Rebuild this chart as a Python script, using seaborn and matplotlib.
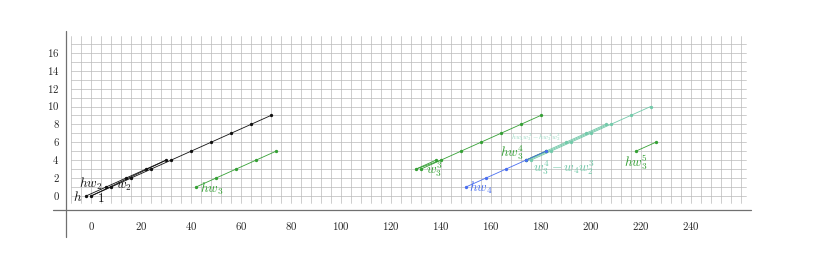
import numpy as np
import pandas as pd
import matplotlib
matplotlib.use("Agg")
import matplotlib.pyplot as plt
import seaborn as sns

# ---- data ----
# black: 1, h and the shifted copy between them
one_x = [0, 8, 16, 24, 32, 40, 48, 56, 64, 72]
one_y = [0, 1, 2, 3, 4, 5, 6, 7, 8, 9]
h_x = [-2, 6, 14, 22, 30]
h_y = [0, 1, 2, 3, 4]
mid_x = [0, 30]
mid_y = [0, 4]

# green hw_3
hw3_x = [42, 50, 58, 66, 74]
hw3_y = [1, 2, 3, 4, 5]

# green w_3^3
w33_x = [132, 140, 148, 156, 164, 172, 180]
w33_y = [3, 4, 5, 6, 7, 8, 9]
w33b_x = [130, 138]
w33b_y = [3, 4]
w33m_x = [130, 140]
w33m_y = [3, 4]

# blue hw_4
hw4_x = [150, 158, 166, 174, 182]
hw4_y = [1, 2, 3, 4, 5]

# green hw_3^4
hw34_x = [174, 182]
hw34_y = [4, 5]

# teal w_3^4 - w_4 w_2^3
teal_x = [176, 184, 192, 200, 208, 216, 224]
teal_y = [4, 5, 6, 7, 8, 9, 10]
tealb_x = [174, 182, 190, 198, 206]
tealb_y = [4, 5, 6, 7, 8]
tealm_x = [175, 207]
tealm_y = [4, 8]

# green hw_3^5
hw35_x = [218, 226]
hw35_y = [5, 6]

x_ticks = list(range(0, 241, 20))
y_ticks = list(range(0, 17, 2))

BLACK = "#111111"
GREEN = "#35a035"
BLUE = "#4a6ff0"
TEAL = "#72c9a9"
TEAL_LIGHT = "#98d8c2"

sns.set_style("white")
plt.rcParams["mathtext.fontset"] = "cm"
plt.rcParams["font.family"] = ["DejaVu Serif"]

fig = plt.figure(figsize=(8.3, 2.64), dpi=100)
ax = fig.add_axes([0, 0, 1, 1])
XLIM = (-91 / 2.4987, (830 - 91) / 2.4987)
YLIM = ((196 - 264) / 8.95, 196 / 8.95)

# grid
gx0, gx1, gy0, gy1 = -8, 262, -0.8, 17.9
for gx in range(-8, 261, 4):
    ax.plot([gx, gx], [gy0, gy1], color="#bababa", lw=0.5, zorder=0)
for gy in range(0, 18):
    ax.plot([gx0, gx1], [gy, gy], color="#bababa", lw=0.5, zorder=0)

# axes
ax.plot([-15.2, 264], [-1.55, -1.55], color="#707070", lw=0.9, zorder=1)
ax.plot([-10, -10], [-4.6, 18.4], color="#707070", lw=0.9, zorder=1)
for t in x_ticks:
    ax.text(t, -3.3, f"${t}$", ha="center", va="center", fontsize=7.8)
for t in y_ticks:
    ax.text(-12.6, t, f"${t}$", ha="right", va="center", fontsize=7.8)


def series(xs, ys, color, marker=True):
    df = pd.DataFrame({"x": xs, "y": ys})
    sns.lineplot(data=df, x="x", y="y", ax=ax, color=color, lw=0.6,
                 marker="o" if marker else None, markersize=2.4,
                 markeredgewidth=0, estimator=None, sort=False, zorder=3)


series(h_x, h_y, BLACK)
series(mid_x, mid_y, BLACK, marker=False)
series(one_x, one_y, BLACK)
series(hw3_x, hw3_y, GREEN)
series(w33b_x, w33b_y, GREEN)
series(w33m_x, w33m_y, GREEN, marker=False)
series(w33_x, w33_y, GREEN)
series(tealb_x, tealb_y, TEAL)
series(tealm_x, tealm_y, TEAL, marker=False)
series(teal_x, teal_y, TEAL)
series(hw34_x, hw34_y, GREEN)
series(hw4_x, hw4_y, BLUE)
series(hw35_x, hw35_y, GREEN)
ax.set_xlim(*XLIM)
ax.set_ylim(*YLIM)
ax.axis("off")

fs = 9.5
ax.text(-3.6, -0.15, "$h$", ha="right", va="center", fontsize=fs, color=BLACK)
ax.text(2.4, -0.3, "$1$", ha="left", va="center", fontsize=fs, color=BLACK)
ax.text(4.3, 1.3, "$hw_2$", ha="right", va="center", fontsize=fs, color=BLACK)
ax.text(10.0, 1.1, "$w_2$", ha="left", va="center", fontsize=fs, color=BLACK)
ax.text(43.5, 0.85, "$hw_3$", ha="left", va="center", fontsize=fs, color=GREEN)
ax.text(134.0, 2.9, "$w_3^3$", ha="left", va="center", fontsize=fs, color=GREEN)
ax.text(151.3, 0.9, "$hw_4$", ha="left", va="center", fontsize=fs, color=BLUE)
ax.text(173.3, 4.9, "$hw_3^4$", ha="right", va="center", fontsize=fs, color=GREEN)
ax.text(218.3, 3.8, "$hw_3^5$", ha="center", va="center", fontsize=fs, color=GREEN)
ax.text(177.0, 3.2, "$w_3^4 - w_4w_2^3$", ha="left", va="center", fontsize=fs, color=TEAL)
ax.text(168.0, 6.6, "$hw_4w_3^3 - hw_3^4w_2^3$", ha="left", va="center",
        fontsize=5.0, color=TEAL_LIGHT)

fig.savefig("out.png", dpi=100)
